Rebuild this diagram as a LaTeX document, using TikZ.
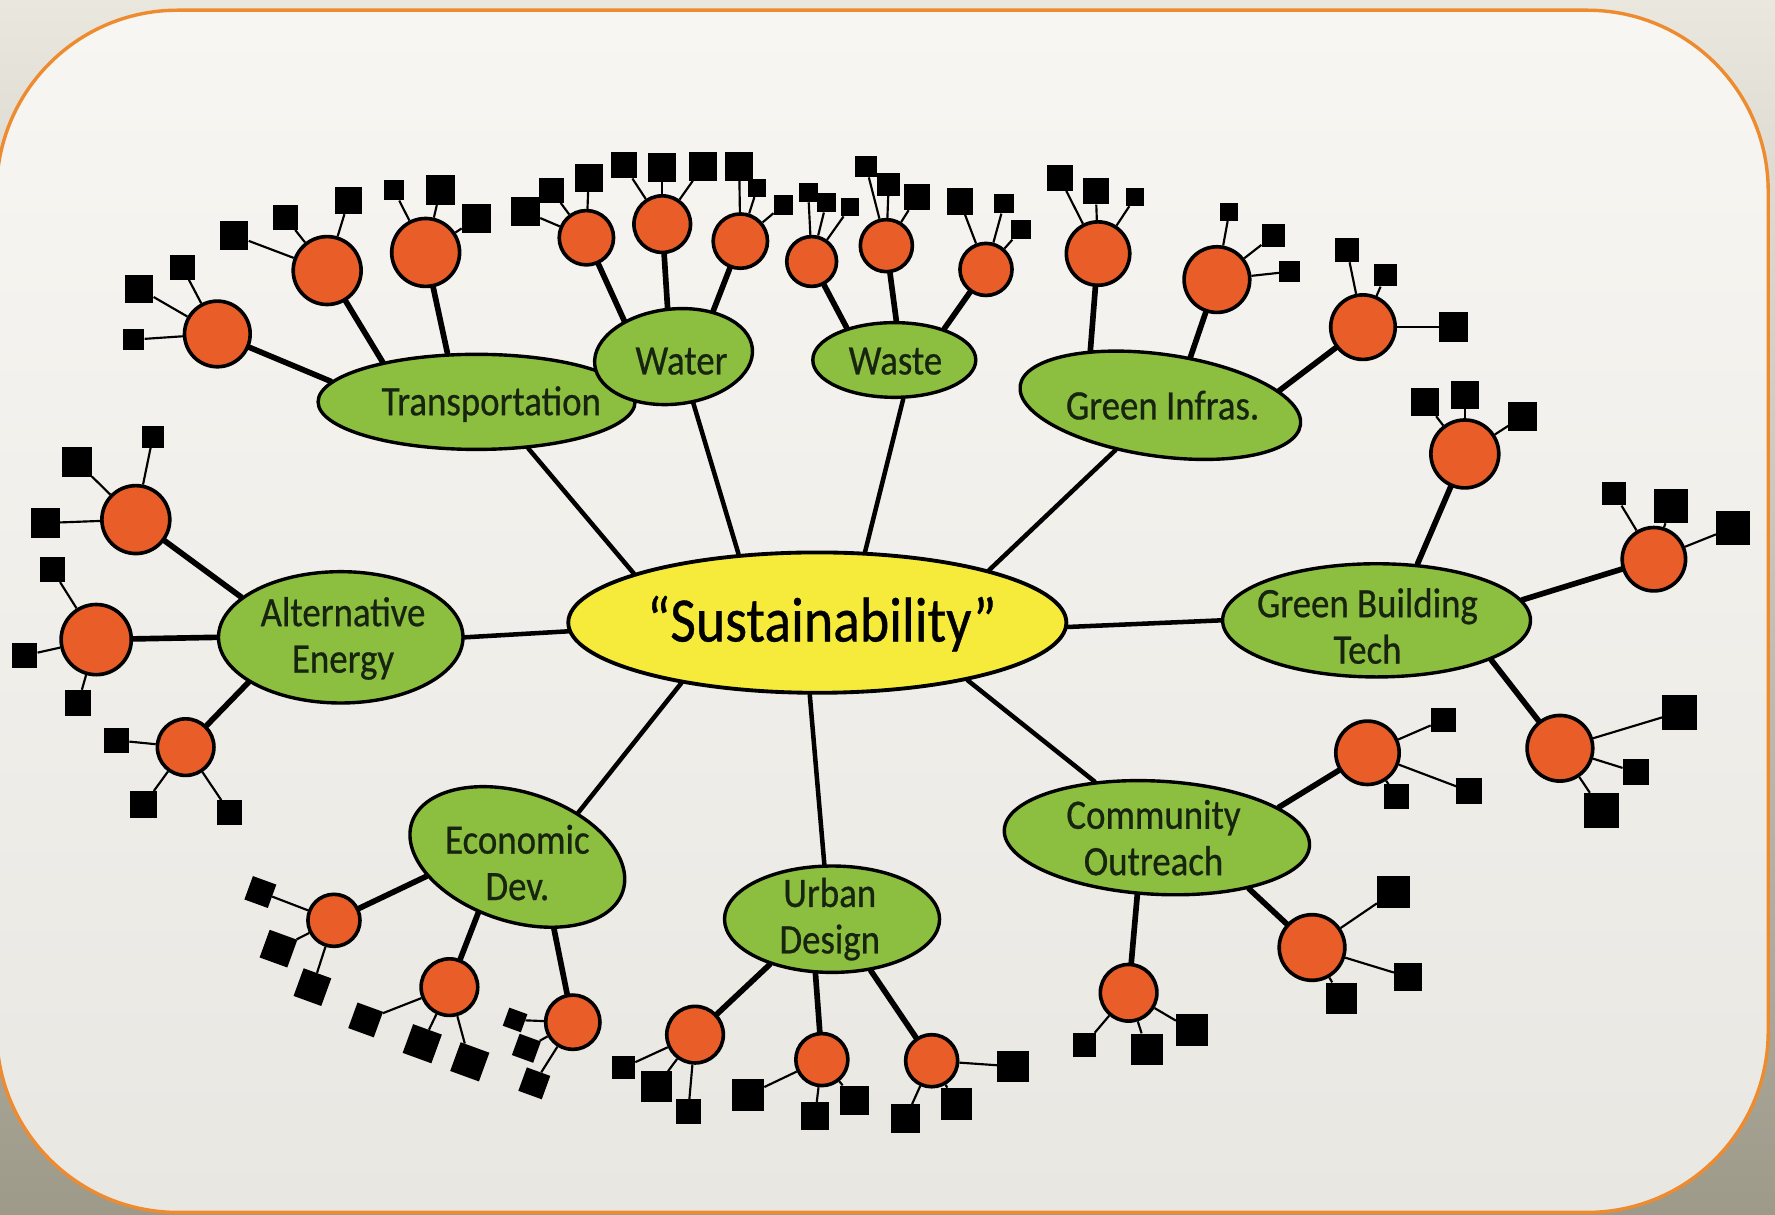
\documentclass[tikz,border=0pt]{standalone}
\usepackage{fontspec}
\setmainfont{Carlito}[FakeStretch=0.88, FakeBold=0.6]
\usetikzlibrary{shapes.geometric}
\pgfdeclarelayer{bg}
\pgfdeclarelayer{edges}
\pgfsetlayers{bg,edges,main}
\definecolor{frameor}{HTML}{EE8B2F}
\definecolor{topicgreen}{HTML}{8CBE40}
\definecolor{leafor}{HTML}{E95E28}
\definecolor{hubyel}{HTML}{F6EB3B}
\definecolor{txtdark}{HTML}{17240F}
\definecolor{outerTop}{HTML}{E9E7DE}
\definecolor{outerBot}{HTML}{9E9A8A}
\definecolor{innerTop}{HTML}{F7F6F2}
\definecolor{innerBot}{HTML}{E9E7E2}
\begin{document}
\begin{tikzpicture}[x=1pt,y=-1pt,
 hub/.style={ellipse, draw=black, line width=3.4pt, fill=hubyel, inner sep=0pt},
 topic/.style={ellipse, draw=black, line width=3pt, fill=topicgreen, inner sep=0pt},
 ttext/.style={text=txtdark, font=\fontsize{37}{41}\selectfont, align=center, inner sep=0pt},
 leaf/.style={circle, draw=black, line width=3.2pt, fill=leafor, inner sep=0pt, minimum size=#1},
 sq/.style={fill=black, inner sep=0pt, minimum size=#1},
 rsq/.style={fill=black, inner sep=0pt, minimum size=#1, rotate=-20},
 hublink/.style={line width=4pt, line cap=round},
 trunk/.style={line width=5pt, line cap=round},
 twig/.style={line width=1.9pt},
]
\useasboundingbox (0,0) rectangle (1568,1073);
\begin{pgfonlayer}{bg}
\shade[top color=outerTop, bottom color=outerBot] (0,0) rectangle (1568,1073);
\shadedraw[top color=innerTop, bottom color=innerBot, draw=frameor, line width=3pt, rounded corners=160pt] (-3,9) rectangle (1562,1071);
\end{pgfonlayer}

% hub
\node[hub, minimum width=440, minimum height=124] (hub) at (722,550) {};
\node[text=black, font=\fontsize{56}{60}\selectfont, inner sep=0pt] (hubT) at (726,551) {“Sustainability”};

% topics
\node[topic, minimum width=280, minimum height=84] (tr) at (421,355) {};
\node[topic, minimum width=140, minimum height=84, rotate=6] (wa) at (595,315) {};
\node[topic, minimum width=144, minimum height=66] (ws) at (790,318) {};
\node[topic, minimum width=250, minimum height=90, rotate=-8] (gi) at (1025,358) {};
\node[topic, minimum width=216, minimum height=116] (ae) at (301,563) {};
\node[topic, minimum width=272, minimum height=100] (gb) at (1216,548) {};
\node[topic, minimum width=196, minimum height=114, rotate=-18] (ec) at (457,757) {};
\node[topic, minimum width=190, minimum height=94] (ud) at (735,812) {};
\node[topic, minimum width=270, minimum height=100, rotate=-3] (co) at (1022,740) {};

\node[ttext] (trT) at (434,357) {Transportation};
\node[ttext] (waT) at (602,319) {Water};
\node[ttext] (wsT) at (791,319) {Waste};
\node[ttext] (giT) at (1027,358) {Green Infras.};
\node[ttext] (aeT) at (303,564) {Alternative\\Energy};
\node[ttext] (gbT) at (1208,553) {Green Building\\Tech};
\node[ttext] (ecT) at (457,762) {Economic\\Dev.};
\node[ttext] (udT) at (733,812) {Urban\\Design};
\node[ttext] (coT) at (1019,740) {Community\\Outreach};

% Transportation leaves
\node[leaf=58] (c1) at (192,295) {};
\node[sq=25] (c1a) at (123,255) {};
\node[sq=22] (c1b) at (161,236) {};
\node[sq=19] (c1c) at (118,300) {};
\node[leaf=60] (c2) at (289,239) {};
\node[sq=25] (c2a) at (207,208) {};
\node[sq=22] (c2b) at (252,192) {};
\node[sq=24] (c2c) at (308,177) {};
\node[leaf=60] (c3) at (376,223) {};
\node[sq=18] (c3a) at (348,168) {};
\node[sq=26] (c3b) at (389,168) {};
\node[sq=26] (c3c) at (421,193) {};

% Water leaves
\node[leaf=48] (c4) at (518,210) {};
\node[sq=26] (c4a) at (464,187) {};
\node[sq=22] (c4b) at (487,168) {};
\node[sq=25] (c4c) at (520,157) {};
\node[leaf=50] (c5) at (585,198) {};
\node[sq=23] (c5a) at (551,146) {};
\node[sq=25] (c5b) at (585,148) {};
\node[sq=25] (c5c) at (621,147) {};
\node[leaf=48] (c6) at (654,213) {};
\node[sq=25] (c6a) at (653,147) {};
\node[sq=16] (c6b) at (669,166) {};
\node[sq=17] (c6c) at (692,181) {};

% Waste leaves
\node[leaf=44] (c7) at (717,231) {};
\node[sq=17] (c7a) at (714,170) {};
\node[sq=17] (c7b) at (730,179) {};
\node[sq=16] (c7c) at (751,183) {};
\node[leaf=46] (c8) at (783,217) {};
\node[sq=19] (c8a) at (765,147) {};
\node[sq=20] (c8b) at (785,163) {};
\node[sq=23] (c8c) at (810,174) {};
\node[leaf=46] (c9) at (871,238) {};
\node[sq=23] (c9a) at (848,178) {};
\node[sq=17] (c9b) at (887,180) {};
\node[sq=17] (c9c) at (902,203) {};

% Green Infras leaves
\node[leaf=56] (c10) at (970,224) {};
\node[sq=23] (c10a) at (936,157) {};
\node[sq=23] (c10b) at (968,169) {};
\node[sq=16] (c10c) at (1003,174) {};
\node[leaf=58] (c11) at (1075,247) {};
\node[sq=16] (c11a) at (1086,187) {};
\node[sq=21] (c11b) at (1125,208) {};
\node[sq=18] (c11c) at (1139,240) {};
\node[leaf=57] (c12) at (1204,289) {};
\node[sq=21] (c12a) at (1190,221) {};
\node[sq=20] (c12b) at (1224,243) {};
\node[sq=26] (c12c) at (1284,289) {};

% Green Building leaves
\node[leaf=60] (c13) at (1294,401) {};
\node[sq=25] (c13a) at (1259,355) {};
\node[sq=25] (c13b) at (1294,349) {};
\node[sq=25] (c13c) at (1345,368) {};
\node[leaf=56] (c14) at (1461,494) {};
\node[sq=21] (c14a) at (1426,436) {};
\node[sq=30] (c14b) at (1476,447) {};
\node[sq=30] (c14c) at (1531,466) {};
\node[leaf=58] (c15) at (1378,661) {};
\node[sq=31] (c15a) at (1484,629) {};
\node[sq=23] (c15b) at (1445,682) {};
\node[sq=31] (c15c) at (1415,716) {};

% Community leaves
\node[leaf=56] (c16) at (1208,665) {};
\node[sq=22] (c16a) at (1275,636) {};
\node[sq=22] (c16b) at (1234,704) {};
\node[sq=23] (c16c) at (1298,699) {};
\node[leaf=58] (c17) at (1159,837) {};
\node[sq=29] (c17a) at (1231,788) {};
\node[sq=25] (c17b) at (1244,863) {};
\node[sq=28] (c17c) at (1185,882) {};
\node[leaf=50] (c18) at (997,877) {};
\node[sq=21] (c18a) at (958,923) {};
\node[sq=28] (c18b) at (1013,927) {};
\node[sq=28] (c18c) at (1053,910) {};

% Urban Design leaves
\node[leaf=46] (c19) at (823,937) {};
\node[sq=28] (c19a) at (895,942) {};
\node[sq=28] (c19b) at (845,975) {};
\node[sq=25] (c19c) at (800,988) {};
\node[leaf=46] (c20) at (726,936) {};
\node[sq=28] (c20a) at (661,967) {};
\node[sq=25] (c20b) at (720,986) {};
\node[sq=26] (c20c) at (755,972) {};
\node[leaf=50] (c21) at (614,914) {};
\node[sq=20] (c21a) at (551,943) {};
\node[sq=27] (c21b) at (580,960) {};
\node[sq=22] (c21c) at (608,982) {};

% Economic Dev leaves
\node[leaf=48] (c22) at (506,903) {};
\node[rsq=17] (c22a) at (455,901) {};
\node[rsq=20] (c22b) at (465,926) {};
\node[rsq=22] (c22c) at (472,957) {};
\node[leaf=50] (c23) at (397,872) {};
\node[rsq=24] (c23a) at (323,901) {};
\node[rsq=27] (c23b) at (373,922) {};
\node[rsq=27] (c23c) at (415,938) {};
\node[leaf=46] (c24) at (295,813) {};
\node[rsq=22] (c24a) at (230,788) {};
\node[rsq=26] (c24b) at (246,838) {};
\node[rsq=26] (c24c) at (276,872) {};

% Alternative Energy leaves
\node[leaf=60] (c25) at (120,459) {};
\node[sq=26] (c25a) at (68,408) {};
\node[sq=19] (c25b) at (135,386) {};
\node[sq=26] (c25c) at (40,462) {};
\node[leaf=62] (c26) at (85,565) {};
\node[sq=22] (c26a) at (46,503) {};
\node[sq=22] (c26b) at (22,579) {};
\node[sq=23] (c26c) at (69,621) {};
\node[leaf=50] (c27) at (164,660) {};
\node[sq=22] (c27a) at (103,654) {};
\node[sq=24] (c27b) at (127,711) {};
\node[sq=22] (c27c) at (203,718) {};

\begin{pgfonlayer}{edges}
% hub to topics
\draw[hublink] (hub.165) -- (tr.-42);
\draw[hublink] (hub.139) -- (wa.-73);
\draw[hublink] (hub.56) -- (ws.-77);
\draw[hublink] (hub.17) -- (gi.-127);
\draw[hublink] (hub.182) -- (ae.0);
\draw[hublink] (hub.-1) -- (gb.180);
\draw[hublink] (hub.204) -- (ec.54);
\draw[hublink] (hub.264) -- (ud.98);
\draw[hublink] (hub.-21) -- (co.141);
% topics to leaves
\draw[trunk] (c1) -- (tr.172);
\draw[trunk] (c2) -- (tr.157);
\draw[trunk] (c3) -- (tr.121);
\draw[trunk] (c4) -- (wa.138);
\draw[trunk] (c5) -- (wa.91);
\draw[trunk] (c6) -- (wa.43);
\draw[trunk] (c7) -- (ws.146);
\draw[trunk] (c8) -- (ws.87);
\draw[trunk] (c9) -- (ws.32);
\draw[trunk] (c10) -- (gi.150);
\draw[trunk] (c11) -- (gi.66);
\draw[trunk] (c12) -- (gi.15);
\draw[trunk] (c13) -- (gb.54);
\draw[trunk] (c14) -- (gb.8);
\draw[trunk] (c15) -- (gb.-19);
\draw[trunk] (c16) -- (co.17);
\draw[trunk] (c17) -- (co.-26);
\draw[trunk] (c18) -- (co.-106);
\draw[trunk] (c19) -- (ud.-53);
\draw[trunk] (c20) -- (ud.-107);
\draw[trunk] (c21) -- (ud.-144);
\draw[trunk] (c22) -- (ec.-45);
\draw[trunk] (c23) -- (ec.-107);
\draw[trunk] (c24) -- (ec.210);
\draw[trunk] (c25) -- (ae.158);
\draw[trunk] (c26) -- (ae.180);
\draw[trunk] (c27) -- (ae.206);
% leaves to squares
\foreach \n in {1,...,27}{
  \draw[twig] (c\n) -- (c\n a);
  \draw[twig] (c\n) -- (c\n b);
  \draw[twig] (c\n) -- (c\n c);
}
\end{pgfonlayer}
\end{tikzpicture}
\end{document}
